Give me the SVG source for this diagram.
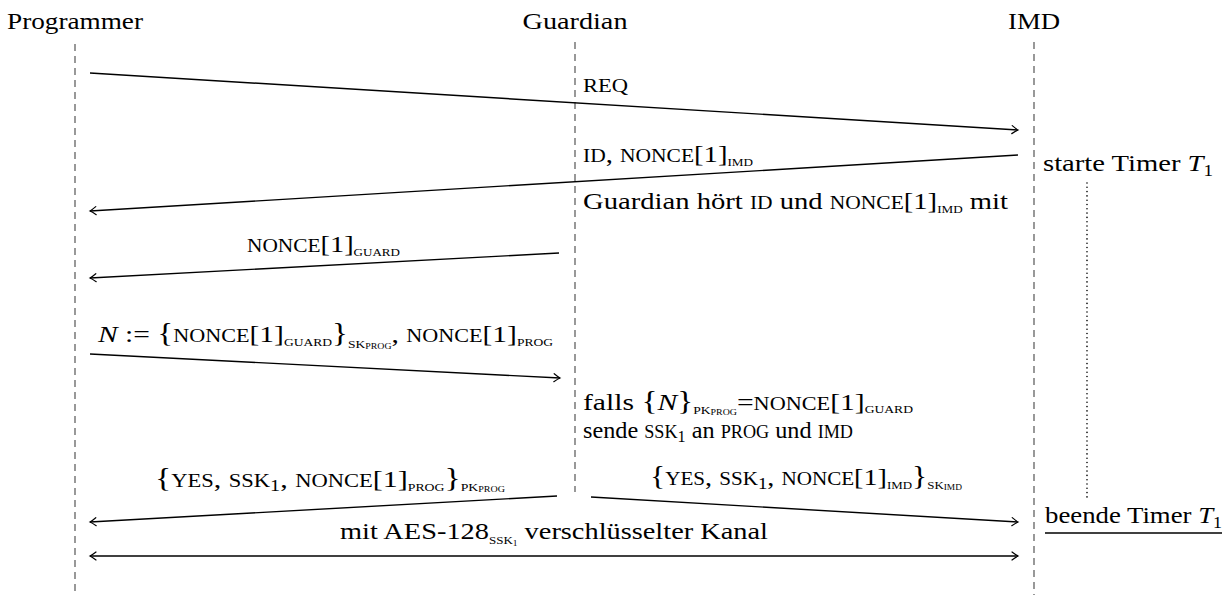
<svg xmlns="http://www.w3.org/2000/svg" width="1229" height="595" viewBox="0 0 1229 595">
<style>
.t{font-family:"Liberation Serif","Times New Roman",serif;font-size:24px;fill:#000}
.sc{font-size:18px}
.sub{font-size:11px}
.ssub{font-size:8px}
.subn{font-size:16px}
.br{font-size:27px}
.it{font-style:italic}
.life{stroke:#555;stroke-width:1.2;stroke-dasharray:7 5;fill:none}
.msg{stroke:#000;stroke-width:1.4;fill:none}
</style>
<defs>
<marker id="arr" viewBox="-8 -5 10 10" refX="0" refY="0" markerWidth="10" markerHeight="10" markerUnits="userSpaceOnUse" orient="auto-start-reverse">
<path d="M-6,-4 Q-2,-1 0,0 Q-2,1 -6,4" stroke="#000" stroke-width="1.2" fill="none" stroke-linecap="round"/>
</marker>
</defs>
<rect width="1229" height="595" fill="#fff"/>
<g id="programmer">
<text class="t" x="75" y="29" text-anchor="middle" textLength="136" lengthAdjust="spacingAndGlyphs">Programmer</text>
<line class="life" x1="75" y1="44" x2="75" y2="595"/>
</g>
<g id="guardian">
<text class="t" x="575" y="29" text-anchor="middle" textLength="105" lengthAdjust="spacingAndGlyphs">Guardian</text>
<line class="life" x1="575" y1="42" x2="575" y2="492"/>
</g>
<g id="imd">
<text class="t" x="1034" y="29" text-anchor="middle" textLength="52" lengthAdjust="spacingAndGlyphs">IMD</text>
<line class="life" x1="1034" y1="42" x2="1034" y2="595"/>
</g>
<g id="connectors">
<line class="msg" x1="90" y1="73" x2="1018" y2="130" marker-end="url(#arr)"/>
<line class="msg" x1="1018" y1="155" x2="90" y2="211" marker-end="url(#arr)"/>
<line class="msg" x1="559" y1="253" x2="90" y2="278" marker-end="url(#arr)"/>
<line class="msg" x1="90" y1="354" x2="560" y2="378" marker-end="url(#arr)"/>
<line class="msg" x1="557" y1="496" x2="90" y2="522" marker-end="url(#arr)"/>
<line class="msg" x1="591" y1="497" x2="1018" y2="522" marker-end="url(#arr)"/>
<line class="msg" x1="90" y1="556" x2="1018" y2="556" marker-start="url(#arr)" marker-end="url(#arr)"/>
</g>
<g id="labels">
<text class="t sc" x="583" y="92" textLength="45" lengthAdjust="spacingAndGlyphs">REQ</text>
<text class="t" x="583" y="162" textLength="170" lengthAdjust="spacingAndGlyphs"><tspan class="sc">ID</tspan>, <tspan class="sc">NONCE</tspan>[1]<tspan class="sub" dy="4">IMD</tspan></text>
<text class="t" x="583" y="209" textLength="425" lengthAdjust="spacingAndGlyphs">Guardian hört <tspan class="sc">ID</tspan> und <tspan class="sc">NONCE</tspan>[1]<tspan class="sub" dy="4">IMD</tspan><tspan dy="-4"> mit</tspan></text>
<text class="t" x="247" y="252" textLength="153" lengthAdjust="spacingAndGlyphs"><tspan class="sc">NONCE</tspan>[1]<tspan class="sub" dy="4">GUARD</tspan></text>
<text class="t" x="98" y="342" textLength="455" lengthAdjust="spacingAndGlyphs"><tspan class="it">N</tspan> := <tspan class="br">{</tspan><tspan class="sc">NONCE</tspan>[1]<tspan class="sub" dy="4">GUARD</tspan><tspan class="br" dy="-4">}</tspan><tspan class="sub" dy="6">SK</tspan><tspan class="ssub" dy="1">PROG</tspan><tspan dy="-7">, </tspan><tspan class="sc">NONCE</tspan>[1]<tspan class="sub" dy="4">PROG</tspan></text>
<text class="t" x="583" y="410" textLength="330" lengthAdjust="spacingAndGlyphs">falls <tspan class="br">{</tspan><tspan class="it">N</tspan><tspan class="br">}</tspan><tspan class="sub" dy="4">PK</tspan><tspan class="ssub" dy="1">PROG</tspan><tspan dy="-5">=</tspan><tspan class="sc">NONCE</tspan>[1]<tspan class="sub" dy="3">GUARD</tspan></text>
<text class="t" x="583" y="438" textLength="270" lengthAdjust="spacingAndGlyphs">sende <tspan class="sc">SSK</tspan><tspan class="subn" dy="4">1</tspan><tspan dy="-4"> an </tspan><tspan class="sc">PROG</tspan> und <tspan class="sc">IMD</tspan></text>
<text class="t" x="155" y="487" textLength="350" lengthAdjust="spacingAndGlyphs"><tspan class="br">{</tspan><tspan class="sc">YES</tspan>, <tspan class="sc">SSK</tspan><tspan class="subn" dy="4">1</tspan><tspan dy="-4">, </tspan><tspan class="sc">NONCE</tspan>[1]<tspan class="sub" dy="4">PROG</tspan><tspan class="br" dy="-4">}</tspan><tspan class="sub" dy="4">PK</tspan><tspan class="ssub" dy="1">PROG</tspan></text>
<text class="t" x="650" y="485" textLength="312" lengthAdjust="spacingAndGlyphs"><tspan class="br">{</tspan><tspan class="sc">YES</tspan>, <tspan class="sc">SSK</tspan><tspan class="subn" dy="4">1</tspan><tspan dy="-4">, </tspan><tspan class="sc">NONCE</tspan>[1]<tspan class="sub" dy="4">IMD</tspan><tspan class="br" dy="-4">}</tspan><tspan class="sub" dy="4">SK</tspan><tspan class="ssub" dy="1">IMD</tspan></text>
<text class="t" x="340" y="539" textLength="428" lengthAdjust="spacingAndGlyphs">mit AES-128<tspan class="sub" dy="5">SSK</tspan><tspan class="ssub" dy="2">1</tspan><tspan dy="-7"> verschlüsselter Kanal</tspan></text>
</g>
<g id="timer">
<text class="t" x="1043" y="171" textLength="170" lengthAdjust="spacingAndGlyphs">starte Timer <tspan class="it">T</tspan><tspan class="subn" dy="5">1</tspan></text>
<line x1="1087" y1="183" x2="1087" y2="500" stroke="#000" stroke-width="1.6" stroke-dasharray="0 4.3" stroke-linecap="round"/>
<text class="t" x="1045" y="523" textLength="177" lengthAdjust="spacingAndGlyphs">beende Timer <tspan class="it">T</tspan><tspan class="subn" dy="5">1</tspan></text>
<line x1="1045" y1="533" x2="1222" y2="533" stroke="#000" stroke-width="1.4"/>
</g>
</svg>
